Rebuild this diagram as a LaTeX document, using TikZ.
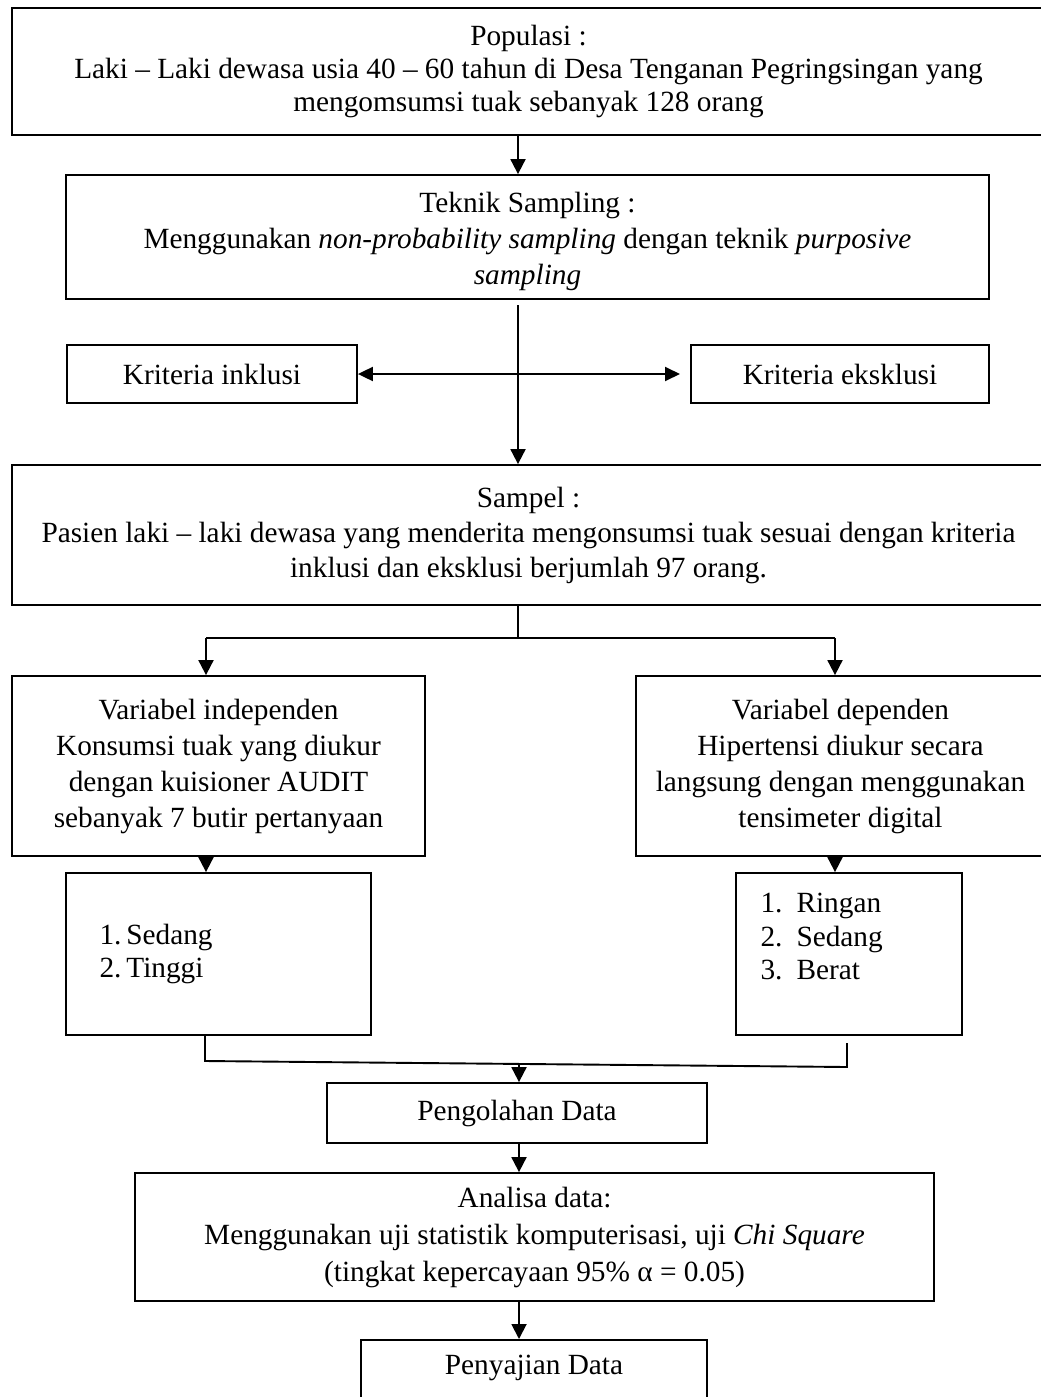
\documentclass[tikz,border=0pt]{standalone}
\usepackage{fontspec}
\setmainfont{Liberation Serif}
\usetikzlibrary{arrows.meta,calc}
\tikzset{
  box/.style={draw, line width=1.8pt, inner sep=0pt, align=center},
  conn/.style={line width=1.9pt},
  arr/.style={conn, -{Triangle[length=15pt,width=15pt]}},
  darr/.style={conn, {Triangle[length=15pt,width=14pt]}-{Triangle[length=15pt,width=14pt]}},
}
\begin{document}
\begin{tikzpicture}[x=1pt,y=-1pt,font=\fontsize{29.3pt}{35pt}\selectfont]
\useasboundingbox (0,0) rectangle (1041,1397);
\clip (0,0) rectangle (1041,1397);

% boxes
\node[box, minimum width=1033pt, minimum height=127pt, font=\fontsize{29.3pt}{33pt}\selectfont] (pop) at (528.5,71.5)
  {Populasi :\\Laki -- Laki dewasa usia 40 -- 60 tahun di Desa Tenganan Pegringsingan yang\\mengomsumsi tuak sebanyak 128 orang};
\node[box, minimum width=923pt, minimum height=124pt] (tek) at (527.5,237) {};
\node[align=center, font=\fontsize{29.3pt}{36pt}\selectfont] (tektxt) at (527.5,241)
  {Teknik Sampling :\\Menggunakan \textit{non-probability sampling} dengan teknik \textit{purposive}\\\textit{sampling}};
\node[box, minimum width=290pt, minimum height=58pt] (ink) at (212,374) {Kriteria inklusi};
\node[box, minimum width=298pt, minimum height=58pt] (eks) at (840,374) {Kriteria eksklusi};
\node[box, minimum width=1033pt, minimum height=140pt] (sam) at (528.5,535)
  {Sampel :\\Pasien laki -- laki dewasa yang menderita mengonsumsi tuak sesuai dengan kriteria\\inklusi dan eksklusi berjumlah 97 orang.};
\node[box, minimum width=413pt, minimum height=180pt, font=\fontsize{29.3pt}{36pt}\selectfont] (vin) at (218.5,766)
  {Variabel independen\\Konsumsi tuak yang diukur\\dengan kuisioner AUDIT\\sebanyak 7 butir pertanyaan};
\node[box, minimum width=409pt, minimum height=180pt, font=\fontsize{29.3pt}{36pt}\selectfont] (vde) at (840.5,766)
  {Variabel dependen\\Hipertensi diukur secara\\langsung dengan menggunakan\\tensimeter digital};
\node[box, minimum width=305pt, minimum height=162pt] (lin) at (218.5,954) {};
\node[align=left, anchor=west, font=\fontsize{29.3pt}{33pt}\selectfont] (lintxt) at (96,953.5)
  {1.\,Sedang\\2.\,Tinggi};
\node[box, minimum width=226pt, minimum height=162pt] (lde) at (849,954) {};
\node[align=left, anchor=west, font=\fontsize{29.3pt}{33.5pt}\selectfont] (ldetxt) at (757,936.5)
  {\makebox[36pt][l]{1.}Ringan\\\makebox[36pt][l]{2.}Sedang\\\makebox[36pt][l]{3.}Berat};
\node[box, minimum width=380pt, minimum height=60pt] (peng) at (517,1113) {Pengolahan Data};
\node[box, minimum width=799pt, minimum height=128pt, font=\fontsize{29.3pt}{37pt}\selectfont] (ana) at (534.5,1237)
  {Analisa data:\\Menggunakan uji statistik komputerisasi, uji \textit{Chi Square}\\(tingkat kepercayaan 95\% α = 0.05)};
\node[box, minimum width=346pt, minimum height=80pt, anchor=north] (pen) at (534,1339) {};
\node (pentxt) at (534,1368) {Penyajian Data};

% coordinates
\coordinate (t1) at (518,305);
\coordinate (sj) at (518,638);
\coordinate (vjL) at (206,638);
\coordinate (vjR) at (835,638);
\coordinate (ekstip) at (680,374);
\coordinate (jl) at (205,1061);
\coordinate (jr) at (847,1067);
\coordinate (jrt) at (847,1043);
\coordinate (m) at (519,1063);

% connectors
\draw[arr] (pop.south -| t1) -- (tek.north -| t1);
\draw[arr] (t1) -- (t1 |- sam.north);
\draw[darr] (ink.east) -- (ekstip);
\draw[conn] (sam.south -| t1) -- (sj);
\draw[conn] (vjL) -- (vjR);
\draw[arr] (vjL) -- (vjL |- vin.north);
\draw[arr] (vjR) -- (vjR |- vde.north);
\draw[arr] (vjL |- vin.south) -- (vjL |- lin.north);
\draw[arr] (vjR |- vde.south) -- (vjR |- lde.north);
\draw[conn] (jl |- lin.south) -- (jl) -- (jr) -- (jrt);
\draw[arr] (m) -- (m |- peng.north);
\draw[arr] (m |- peng.south) -- (m |- ana.north);
\draw[arr] (m |- ana.south) -- (m |- pen.north);
\end{tikzpicture}
\end{document}
